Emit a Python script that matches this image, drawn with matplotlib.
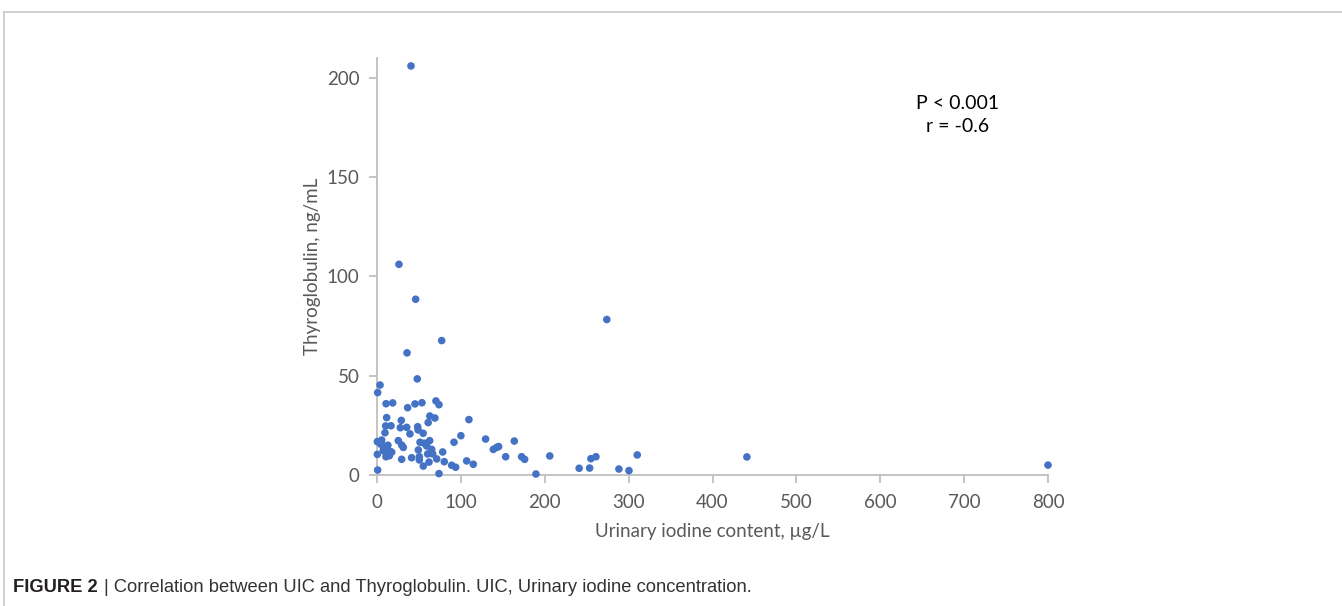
import matplotlib
matplotlib.use("Agg")
import matplotlib.pyplot as plt
from matplotlib.lines import Line2D

# ---- data ----
uic = [40.5, 26.2, 46.1, 35.8, 77.1, 48.0, 3.6, 0.8, 10.8, 18.7, 36.5, 45.3, 53.6,
       70.3, 73.9, 11.5, 29.0, 63.0, 69.0, 61.0, 10.3, 16.7, 27.8, 35.4, 48.5,
       49.0, 9.5, 39.3, 55.0, 109.6, 100.0, 0.4, 5.6, 25.4, 29.4, 51.3, 56.4,
       62.8, 91.8, 129.5, 163.7, 0.4, 7.5, 12.3, 16.3, 10.7, 14.7, 31.4, 41.3,
       29.4, 49.3, 50.5, 50.5, 55.2, 59.2, 65.2, 60.4, 66.4, 71.2, 62.0, 78.3,
       80.2, 73.9, 89.0, 93.8, 106.9, 114.8, 138.7, 142.6, 145.0, 153.4, 172.4,
       176.0, 189.5, 0.8, 206.0, 241.0, 253.5, 255.0, 261.0, 288.4, 300.4,
       310.3, 274.0, 441.0, 800.0, 4.5, 9.0, 14.0, 8.5, 13.0, 17.5]
thyroglobulin = [206.0, 106.1, 88.5, 61.5, 67.7, 48.4, 45.3, 41.5, 35.9, 36.3,
                 33.9, 35.8, 36.4, 37.3, 35.4, 28.9, 27.5, 29.7, 28.7, 26.4, 24.7,
                 24.8, 23.8, 24.0, 24.3, 22.7, 21.3, 20.7, 21.0, 27.9, 19.8, 16.8,
                 17.6, 17.3, 15.1, 16.5, 16.0, 17.3, 16.5, 18.1, 17.1, 10.4, 12.6,
                 13.8, 11.7, 9.2, 9.7, 13.9, 8.7, 7.9, 12.6, 9.2, 7.6, 4.5, 14.6,
                 12.9, 10.6, 10.6, 8.1, 6.5, 11.6, 6.7, 0.7, 4.9, 3.9, 7.1, 5.4,
                 12.9, 13.9, 14.3, 9.2, 9.2, 7.9, 0.5, 2.5, 9.6, 3.4, 3.5, 8.2, 9.2,
                 3.0, 2.2, 10.1, 78.3, 9.1, 5.0, 15.5, 14.5, 11.0, 12.0, 15.0, 11.5]

x_ticks = [0, 100, 200, 300, 400, 500, 600, 700, 800]
y_ticks = [0, 50, 100, 150, 200]
x_label = "Urinary iodine content, µg/L"
y_label = "Thyroglobulin, ng/mL"
stats_text = "P < 0.001\nr = -0.6"
caption_bold = "FIGURE 2"
caption_rest = "| Correlation between UIC and Thyroglobulin. UIC, Urinary iodine concentration."

W, H = 1342, 606
DPI = 100
fig = plt.figure(figsize=(W / DPI, H / DPI), dpi=DPI)
fig.patch.set_facecolor("white")

def fx(px):
    return px / W

def fy(py):
    return 1 - py / H

# plot area: x 0 -> 377px, 800 -> 1048px ; y 0 -> 475px, 210 -> 58px
ax = fig.add_axes([fx(377), fy(475), fx(1048) - fx(377), fy(58) - fy(475)])
ax.scatter(uic, thyroglobulin, s=30, color="#4472C4", edgecolors="none", zorder=3,
           clip_on=False)
ax.set_xlim(0, 800)
ax.set_ylim(0, 210)
ax.set_xticks(x_ticks)
ax.set_yticks(y_ticks)

grey = "#BFBFBF"
for side in ("top", "right"):
    ax.spines[side].set_visible(False)
for side in ("left", "bottom"):
    ax.spines[side].set_color(grey)
    ax.spines[side].set_linewidth(1.3)

ax.tick_params(axis="both", direction="out", length=5.5, width=1.3, color=grey,
               labelcolor="#595959", labelsize=13.5)
ax.tick_params(axis="x", pad=8)
ax.tick_params(axis="y", pad=7)
for lab in ax.get_xticklabels() + ax.get_yticklabels():
    lab.set_family(["Lato", "DejaVu Sans"])

ax.set_xlabel(x_label, family=["Lato", "DejaVu Sans"], fontsize=13.5,
              color="#595959", labelpad=9)
ax.set_ylabel(y_label, family=["Lato", "DejaVu Sans"], fontsize=13.5,
              color="#595959", labelpad=4)

fig.text(fx(958), fy(115), stats_text, ha="center", va="center",
         family=["Lato", "DejaVu Sans"], fontsize=14, color="black",
         linespacing=1.4)

# frame lines
frame_col = "#C8C8C8"
fig.add_artist(Line2D([fx(3.5), 1], [fy(11.5), fy(11.5)], color=frame_col,
                      lw=1.2, transform=fig.transFigure))
fig.add_artist(Line2D([fx(3.5), fx(3.5)], [fy(11.5), 0], color=frame_col,
                      lw=1.2, transform=fig.transFigure))

# caption
cap_family = ["Liberation Sans Narrow", "Liberation Sans", "DejaVu Sans"]
t1 = fig.text(fx(13), fy(587), caption_bold, ha="left", va="center",
              family=cap_family, fontsize=13.2, fontweight="bold", color="#231F20")
renderer = fig.canvas.get_renderer()
bb = t1.get_window_extent(renderer=renderer)
fig.text((bb.x1 + 6) / W, fy(587), caption_rest, ha="left", va="center",
         family=cap_family, fontsize=13.2, color="#333333")

fig.savefig("out.png", dpi=DPI, facecolor="white")
